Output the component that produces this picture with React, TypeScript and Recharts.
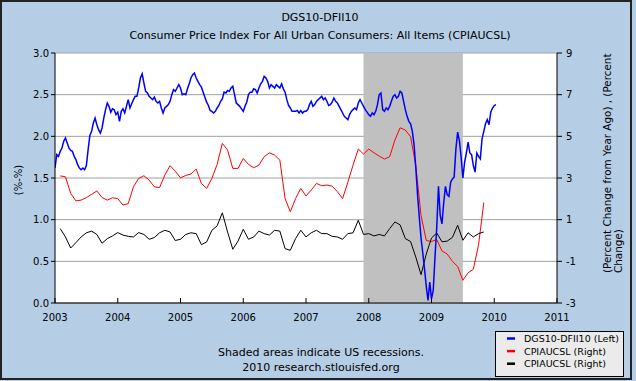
import { LineChart, Line, XAxis, YAxis, CartesianGrid, ReferenceArea } from 'recharts'

// x axis: calendar years
const YEARS = [2003, 2004, 2005, 2006, 2007, 2008, 2009, 2010, 2011]
const LEFT_TICKS = [0, 0.5, 1, 1.5, 2, 2.5, 3]
const RIGHT_TICKS = [-3, -1, 1, 3, 5, 7, 9]
// NBER recession Dec 2007 - Jun 2009
const RECESSION_START = 2007 + 11 / 12
const RECESSION_END = 2009.5

// DGS10-DFII10 (left), sampled every 1/36 year from Jan 2003
const SPREAD_START = 2003
const SPREAD_STEP = 1 / 36
const SPREAD = [
  1.62, 1.78, 1.76, 1.82, 1.86, 1.94, 1.98, 1.92, 1.86, 1.83, 1.82, 1.76, 1.72, 1.66, 1.62, 1.6, 1.62, 1.6,
  1.65, 1.84, 2.01, 2.06, 2.16, 2.22, 2.14, 2.08, 2.04, 2.1, 2.22, 2.32, 2.4, 2.36, 2.29, 2.33, 2.32, 2.26,
  2.29, 2.18, 2.3, 2.33, 2.28, 2.36, 2.44, 2.34, 2.39, 2.44, 2.48, 2.48, 2.58, 2.7, 2.75, 2.64, 2.54, 2.52,
  2.48, 2.46, 2.44, 2.47, 2.42, 2.4, 2.42, 2.34, 2.28, 2.34, 2.36, 2.38, 2.42, 2.5, 2.56, 2.54, 2.58, 2.62,
  2.58, 2.5, 2.51, 2.5, 2.57, 2.63, 2.7, 2.74, 2.76, 2.7, 2.66, 2.62, 2.59, 2.53, 2.47, 2.41, 2.37, 2.31,
  2.3, 2.28, 2.3, 2.34, 2.37, 2.42, 2.45, 2.53, 2.52, 2.55, 2.54, 2.58, 2.6, 2.5, 2.4, 2.38, 2.36, 2.33,
  2.3, 2.36, 2.41, 2.5, 2.53, 2.53, 2.57, 2.56, 2.52, 2.58, 2.63, 2.66, 2.72, 2.7, 2.66, 2.58, 2.62, 2.6,
  2.58, 2.62, 2.6, 2.58, 2.63, 2.57, 2.53, 2.44, 2.37, 2.34, 2.3, 2.3, 2.3, 2.31, 2.28, 2.31, 2.28, 2.3,
  2.3, 2.32, 2.38, 2.42, 2.36, 2.38, 2.42, 2.44, 2.46, 2.48, 2.44, 2.46, 2.42, 2.37, 2.38, 2.41, 2.46, 2.42,
  2.4, 2.36, 2.32, 2.28, 2.24, 2.22, 2.2, 2.26, 2.3, 2.32, 2.34, 2.32, 2.4, 2.44, 2.4, 2.36, 2.32, 2.29,
  2.26, 2.24, 2.28, 2.26, 2.3, 2.38, 2.5, 2.52, 2.32, 2.3, 2.34, 2.32, 2.36, 2.42, 2.48, 2.5, 2.46, 2.48,
  2.54, 2.52, 2.42, 2.32, 2.24, 2.18, 2.15, 2.06, 1.9, 1.62, 1.3, 1.03, 0.78, 0.6, 0.41, 0.2, 0.03, 0.25,
  0.05, 0.15, 0.55, 0.9, 1.4, 1.05, 0.95, 1.2, 1.4, 1.3, 1.28, 1.45, 1.49, 1.51, 1.85, 2.05, 1.95, 1.75,
  1.5, 1.69, 1.8, 1.93, 1.8, 1.78, 1.65, 1.57, 1.8, 1.76, 1.73, 1.97, 2.06, 2.15, 2.2, 2.14, 2.29, 2.34,
  2.37, 2.38,
]

// CPIAUCSL monthly, Feb 2003 - Nov 2009 (right axis)
const CPI_START = 2003 + 1 / 12
const CPI_YOY = [
  3.1, 3.06, 2.26, 1.9, 1.94, 2.06, 2.21, 2.38, 2.06, 1.94, 2.05,
  2.01, 1.7, 1.77, 2.58, 2.98, 3.11, 2.9, 2.58, 2.54, 3.14, 3.59, 3.33,
  3.01, 3.12, 3.19, 3.43, 2.74, 2.5, 2.98, 3.65, 4.66, 4.34, 3.46, 3.46,
  3.94, 3.65, 3.49, 3.62, 4.02, 4.21, 4.1, 3.86, 2.01, 1.38, 2.01, 2.5,
  2.14, 2.42, 2.74, 2.63, 2.66, 2.61, 2.34, 2.01, 2.8, 3.62, 4.39, 4.15,
  4.39, 4.21, 4.05, 3.91, 4.02, 4.82, 5.41, 5.3, 4.98, 3.6, 1.2, 0.0,
  -0.05, 0.05, -0.5, -0.65, -1.0, -1.25, -1.91, -1.55, -1.38, -0.2, 1.82,
]
const CPI_MOM = [
  0.57, 0.17, -0.36, -0.1, 0.17, 0.37, 0.45, 0.29, -0.13, 0.09, 0.22,
  0.38, 0.26, 0.2, 0.17, 0.38, 0.29, 0.06, 0.14, 0.37, 0.49, 0.41, 0.0,
  0.06, 0.29, 0.37, 0.33, -0.2, -0.07, 0.49, 0.7, 1.33, 0.41, -0.42, -0.03,
  0.54, 0.06, 0.17, 0.45, 0.33, 0.26, 0.49, 0.45, -0.39, -0.47, 0.09, 0.49,
  0.17, 0.37, 0.49, 0.33, 0.33, 0.2, 0.17, 0.06, 0.33, 0.37, 0.97, 0.29,
  0.33, 0.22, 0.29, 0.22, 0.57, 0.89, 0.75, 0.09, -0.05, -0.8, -1.64, -0.65,
  0.12, 0.36, -0.06, -0.03, 0.15, 0.73, 0.01, 0.37, 0.17, 0.33, 0.41,
]

const spreadData = SPREAD.map((v, i) => ({ t: SPREAD_START + i * SPREAD_STEP, v }))
const yoyData = CPI_YOY.map((v, i) => ({ t: CPI_START + i / 12, v }))
const momData = CPI_MOM.map((v, i) => ({ t: CPI_START + i / 12, v }))

const FONT = '"DejaVu Sans", Verdana, sans-serif'
const BG = '#B5CDE5'
const tick = { fill: '#000', fontSize: 10, fontFamily: FONT }

const LEGEND = [
  { label: 'DGS10-DFII10 (Left)', color: '#0000FF' },
  { label: 'CPIAUCSL (Right)', color: '#FF0000' },
  { label: 'CPIAUCSL (Right)', color: '#000000' },
]

export default function App() {
  return (
    <div style={{ position: 'absolute', left: 0, top: 0, width: 636, height: 381, background: BG, fontFamily: FONT }}>
      <LineChart width={636} height={381} margin={{ top: 53, right: 5, bottom: 48, left: 0 }}>
        <CartesianGrid yAxisId="left" vertical={false} stroke="#A0A0A0" fill="#FFFFFF" />
        <ReferenceArea
          yAxisId="left"
          x1={RECESSION_START}
          x2={RECESSION_END}
          y1={0}
          y2={3}
          fill="#C0C0C0"
          fillOpacity={1}
          stroke="none"
        />
        <XAxis
          dataKey="t"
          type="number"
          domain={[2003, 2011]}
          ticks={YEARS}
          interval={0}
          allowDataOverflow
          height={30}
          tickSize={-5}
          tickMargin={16}
          tick={tick}
          axisLine={{ stroke: '#000' }}
          tickLine={{ stroke: '#000' }}
        />
        <YAxis
          yAxisId="left"
          domain={[0, 3]}
          ticks={LEFT_TICKS}
          interval={0}
          width={55}
          tickSize={4}
          tickMargin={2}
          tickFormatter={(v: number) => v.toFixed(1)}
          tick={tick}
          axisLine={{ stroke: '#000' }}
          tickLine={{ stroke: '#000' }}
        />
        <YAxis
          yAxisId="right"
          orientation="right"
          domain={[-3, 9]}
          ticks={RIGHT_TICKS}
          interval={0}
          width={74}
          tickSize={5}
          tickMargin={4}
          tick={tick}
          axisLine={{ stroke: '#000' }}
          tickLine={{ stroke: '#000' }}
        />
        <Line data={yoyData} dataKey="v" yAxisId="right" stroke="#FF0000" strokeWidth={1} dot={false} isAnimationActive={false} />
        <Line data={momData} dataKey="v" yAxisId="right" stroke="#000000" strokeWidth={1} dot={false} isAnimationActive={false} />
        <Line data={spreadData} dataKey="v" yAxisId="left" stroke="#0000FF" strokeWidth={1.5} dot={false} isAnimationActive={false} />
      </LineChart>

      <svg width={636} height={381} style={{ position: 'absolute', left: 0, top: 0, pointerEvents: 'none' }}>
        <rect x={1} y={1} width={630} height={378} fill="none" stroke="#222" strokeWidth={2} />
        <text x={320} y={21} textAnchor="middle" fontSize={11} fontFamily={FONT} fill="#000">DGS10-DFII10</text>
        <text x={320} y={39} textAnchor="middle" fontSize={11} fontFamily={FONT} fill="#000">
          Consumer Price Index For All Urban Consumers: All Items (CPIAUCSL)
        </text>
        <text transform="translate(22,180) rotate(-90)" textAnchor="middle" fontSize={10} fontFamily={FONT} fill="#000">(%-%)</text>
        <text transform="translate(611,273) rotate(-90)" textAnchor="start" fontSize={10.4} fontFamily={FONT} fill="#000">
          (Percent Change from Year Ago) , (Percent
        </text>
        <text transform="translate(622,273) rotate(-90)" textAnchor="start" fontSize={10.4} fontFamily={FONT} fill="#000">Change)</text>
        <text x={321} y={356} textAnchor="middle" fontSize={11} fontFamily={FONT} fill="#000">Shaded areas indicate US recessions.</text>
        <text x={321} y={371} textAnchor="middle" fontSize={11} fontFamily={FONT} fill="#000">2010 research.stlouisfed.org</text>
        <rect x={495.5} y={331.5} width={128} height={45} fill="#EBEBEB" stroke="#000" strokeWidth={1} />
        {LEGEND.map((d, i) => (
          <g key={i}>
            <line x1={507} x2={515} y1={338.5 + i * 12.6} y2={338.5 + i * 12.6} stroke={d.color} strokeWidth={2.5} />
            <text x={524} y={342 + i * 12.6} fontSize={9.5} fontFamily={FONT} fill="#000">{d.label}</text>
          </g>
        ))}
      </svg>
    </div>
  )
}
